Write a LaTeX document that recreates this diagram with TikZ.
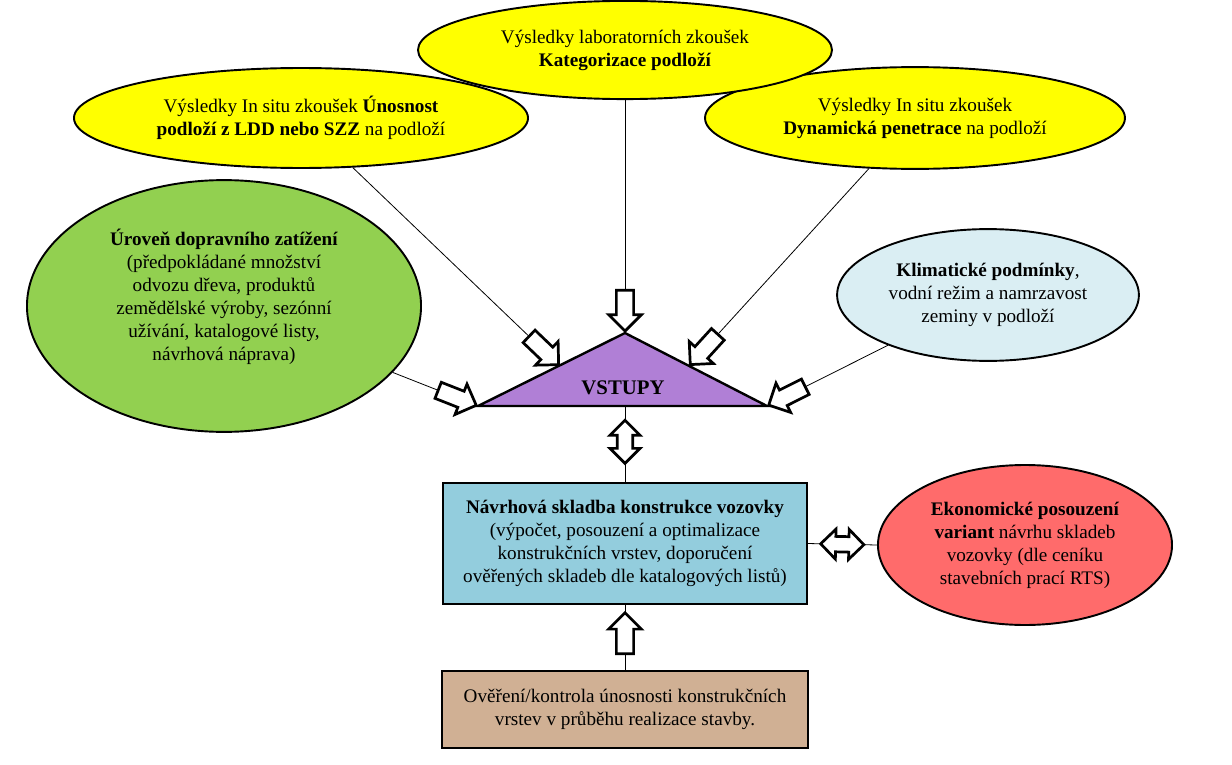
\documentclass[tikz,border=0pt]{standalone}
\usepackage{fontspec}
\setmainfont{Liberation Serif}
\usetikzlibrary{shapes.geometric,shapes.arrows}
\definecolor{vysl}{HTML}{FFFF00}
\definecolor{zatiz}{HTML}{92D050}
\definecolor{klim}{HTML}{DAEEF3}
\definecolor{vstup}{HTML}{B07FD6}
\definecolor{skladba}{HTML}{93CDDD}
\definecolor{ekon}{HTML}{FF6B6B}
\definecolor{kontr}{HTML}{D0B094}
\begin{document}
\begin{tikzpicture}[x=0.022cm, y=-0.022cm, font=\fontsize{12}{14.4}\selectfont,
	oval/.style = {draw, ellipse, line width=1.2pt, inner sep=0pt, align=center},
	box/.style = {draw, rectangle, line width=1.2pt, inner sep=0pt, align=center},
	link/.style = {line width=0.5pt},
	inarrow/.style = {draw, single arrow, fill=white, line width=1.7pt, inner sep=0.16cm, single arrow head extend=0.17cm, minimum height=0.9cm, sloped, allow upside down},
	twoway/.style = {draw, double arrow, fill=white, line width=1.7pt, inner sep=0.14cm, double arrow head extend=0.16cm, minimum height=0.95cm, sloped, allow upside down}]

	\useasboundingbox (0,0) rectangle (1232,765);

	\node[oval, fill=vysl, minimum width=9.99cm, minimum height=2.2cm] (insitu) at (301,118) {Výsledky In situ zkoušek \textbf{Únosnost}\\ \textbf{podloží z LDD nebo SZZ} na podloží};
	\node[oval, fill=vysl, minimum width=9.24cm, minimum height=2.24cm] (dynam) at (915,118) {Výsledky In situ zkoušek\\ \textbf{Dynamická penetrace} na podloží};
	\node[oval, fill=vysl, minimum width=9.11cm, minimum height=2.16cm] (labor) at (625,50) {Výsledky laboratorních zkoušek\\ \textbf{Kategorizace podloží}};
	\node[oval, fill=zatiz, minimum width=8.67cm, minimum height=5.54cm] (zatizeni) at (224,306) {\textbf{Úroveň dopravního zatížení}\\ (předpokládané množství\\ odvozu dřeva, produktů\\ zemědělské výroby, sezónní\\ užívání, katalogové listy,\\ návrhová náprava)\\ \mbox{}};
	\node[oval, fill=klim, minimum width=6.64cm, minimum height=2.9cm] (klima) at (988,295) {\textbf{Klimatické podmínky},\\ vodní režim a namrzavost\\ zeminy v podloží};

	\coordinate (apex) at (625,333);
	\coordinate (bl) at (478,406);
	\coordinate (br) at (767,406);
	\coordinate (bm) at (625,406);
	\coordinate (lpt) at (560,366);
	\coordinate (rpt) at (689,366);
	\draw[line width=1.5pt, fill=vstup] (apex) -- (bl) -- (br) -- cycle;
	\node[font=\fontsize{13}{15}\selectfont\bfseries] (vstupy) at (623,388) {VSTUPY};

	\node[box, fill=skladba, minimum width=7.99cm, minimum height=2.66cm] (navrh) at (625,543.5) {\textbf{Návrhová skladba konstrukce vozovky}\\ (výpočet, posouzení a optimalizace\\ konstrukčních vrstev, doporučení\\ ověřených skladeb dle katalogových listů)};
	\node[oval, fill=ekon, minimum width=6.47cm, minimum height=3.52cm] (ekonom) at (1025,545) {\textbf{Ekonomické posouzení}\\ \textbf{variant} návrhu skladeb\\ vozovky (dle ceníku\\ stavebních prací RTS)};
	\node[box, fill=kontr, minimum width=8.07cm, minimum height=1.69cm] (overeni) at (625,709.5) {Ověření/kontrola únosnosti konstrukčních\\ vrstev v průběhu realizace stavby.};

	\draw[link] (insitu) to node[inarrow, pos=1, anchor=tip] (a1) {} (lpt);
	\draw[link] (labor) to node[inarrow, pos=1, anchor=tip] (a2) {} (apex);
	\draw[link] (dynam) to node[inarrow, pos=1, anchor=tip] (a3) {} (rpt);
	\draw[link] (zatizeni) to node[inarrow, pos=1, anchor=tip] (a4) {} (bl);
	\draw[link] (klima) to node[inarrow, pos=1, anchor=tip] (a5) {} (br);
	\draw[link] (bm) to node[twoway, pos=0.47] (a6) {} (navrh.north);
	\draw[link] (navrh.east) to node[twoway, pos=0.5] (a7) {} (ekonom.west);
	\draw[link] (overeni.north) to node[inarrow, pos=0.5] (a8) {} (navrh.south);

\end{tikzpicture}
\end{document}
